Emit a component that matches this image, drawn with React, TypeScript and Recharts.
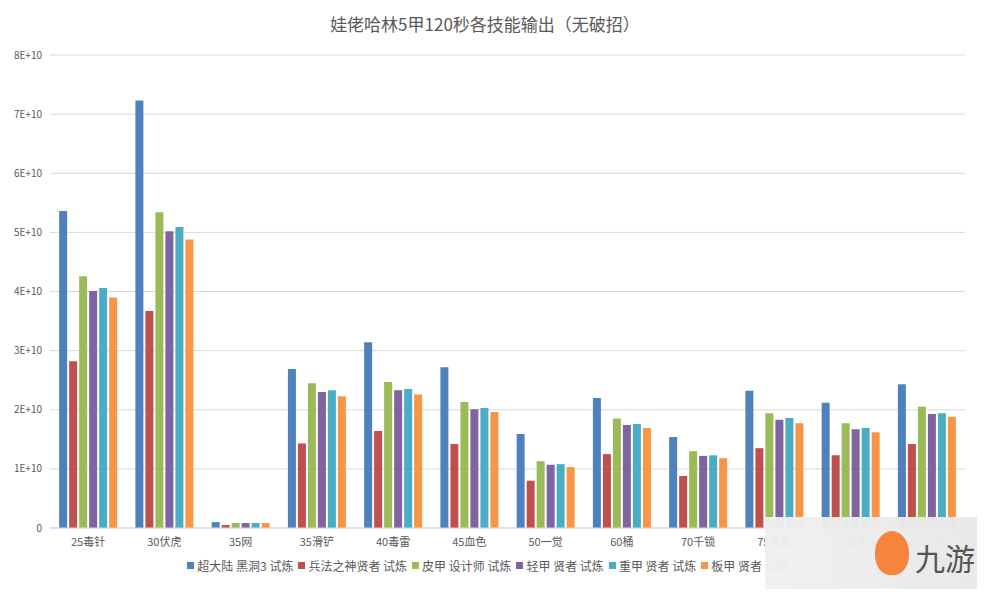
import { BarChart, Bar, XAxis, YAxis, CartesianGrid, Legend } from 'recharts';

const categories = ['25毒针', '30伏虎', '35网', '35滑铲', '40毒雷', '45血色', '50一觉', '60桶', '70千锁', '75毒雾', '80毒龙', '85二觉'];

const seriesNames = ['超大陆 黑洞3 试炼', '兵法之神贤者 试炼', '皮甲 设计师 试炼', '轻甲 贤者 试炼', '重甲 贤者 试炼', '板甲 贤者 试炼'];
const seriesColors = ['#4F81BD', '#C0504D', '#9BBB59', '#8064A2', '#4BACC6', '#F79646'];

const blackHole = [5.36e10, 7.23e10, 0.10e10, 2.69e10, 3.14e10, 2.72e10, 1.59e10, 2.20e10, 1.54e10, 2.32e10, 2.12e10, 2.43e10];
const sageGod = [2.82e10, 3.67e10, 0.05e10, 1.43e10, 1.64e10, 1.42e10, 0.80e10, 1.25e10, 0.88e10, 1.35e10, 1.23e10, 1.42e10];
const leather = [4.26e10, 5.34e10, 0.085e10, 2.45e10, 2.47e10, 2.13e10, 1.13e10, 1.85e10, 1.30e10, 1.94e10, 1.77e10, 2.05e10];
const light = [4.01e10, 5.02e10, 0.085e10, 2.30e10, 2.33e10, 2.01e10, 1.07e10, 1.74e10, 1.22e10, 1.83e10, 1.67e10, 1.93e10];
const heavy = [4.06e10, 5.09e10, 0.085e10, 2.33e10, 2.35e10, 2.03e10, 1.08e10, 1.76e10, 1.23e10, 1.86e10, 1.69e10, 1.94e10];
const plate = [3.90e10, 4.88e10, 0.085e10, 2.23e10, 2.26e10, 1.96e10, 1.03e10, 1.69e10, 1.18e10, 1.77e10, 1.62e10, 1.88e10];

const yTicks = [0, 1e10, 2e10, 3e10, 4e10, 5e10, 6e10, 7e10, 8e10];

const allSeries = [blackHole, sageGod, leather, light, heavy, plate];
const data = categories.map((name, i) => {
  const row: Record<string, string | number> = { name };
  allSeries.forEach((s, k) => {
    row[`s${k}`] = s[i];
  });
  return row;
});

const font = '"Noto Sans CJK SC", "Microsoft YaHei", sans-serif';

// legend in series order (recharts sorts by default)
const renderLegend = () => (
  <div style={{ display: 'flex', justifyContent: 'center', alignItems: 'center', fontSize: 12, color: '#595959', fontFamily: font, paddingLeft: 8 }}>
    {seriesNames.map((n, k) => (
      <span key={n} style={{ display: 'inline-flex', alignItems: 'center', marginRight: 5 }}>
        <span style={{ display: 'inline-block', width: 7, height: 7, background: seriesColors[k], marginRight: 3 }} />
        {n}
      </span>
    ))}
  </div>
);

export default function App() {
  return (
    <div style={{ position: 'relative', width: 985, height: 597, margin: -8, background: '#fff', fontFamily: font, overflow: 'hidden' }}>
      <div style={{ position: 'absolute', left: 3, top: 5, width: 976, height: 586, border: '1px solid #d9d9d9' }} />
      <div style={{ position: 'absolute', top: 11, left: 0, width: 970, textAlign: 'center', fontSize: 17, color: '#595959' }}>
        娃佬哈林5甲120秒各技能输出（无破招）
      </div>
      <div style={{ position: 'absolute', left: 0, top: 0 }}>
        <BarChart
          width={985}
          height={597}
          data={data}
          margin={{ top: 55, right: 20, bottom: 16, left: 8 }}
          barCategoryGap="12%"
          barGap={2}
        >
          <CartesianGrid vertical={false} stroke="#d9d9d9" />
          <XAxis
            dataKey="name"
            tickLine={false}
            axisLine={{ stroke: '#d9d9d9' }}
            height={29}
            tickMargin={4}
            tick={{ fontSize: 11, fill: '#595959', fontFamily: font }}
            interval={0}
          />
          <YAxis
            width={42}
            domain={[0, 8e10]}
            ticks={yTicks}
            tickLine={false}
            axisLine={false}
            tick={{ fontSize: 10, fill: '#595959', fontFamily: font }}
            tickFormatter={(v: number) => (v === 0 ? '0' : `${v / 1e10}E+10`)}
          />
          <Legend verticalAlign="bottom" height={24} content={renderLegend} />
          {seriesNames.map((n, k) => (
            <Bar key={n} dataKey={`s${k}`} name={n} fill={seriesColors[k]} isAnimationActive={false} />
          ))}
        </BarChart>
      </div>
      <div
        style={{
          position: 'absolute',
          left: 765,
          top: 517,
          width: 220,
          height: 80,
          background: 'linear-gradient(90deg, rgba(240,240,240,0.96), rgba(232,232,232,0.98))',
        }}
      >
        <div style={{ position: 'absolute', left: 110, top: 14, width: 34, height: 44, borderRadius: '50% 50% 45% 45%', background: '#F5843C' }} />
        <div style={{ position: 'absolute', left: 150, top: 18, fontSize: 30, color: '#555', fontFamily: font }}>九游</div>
      </div>
    </div>
  );
}
